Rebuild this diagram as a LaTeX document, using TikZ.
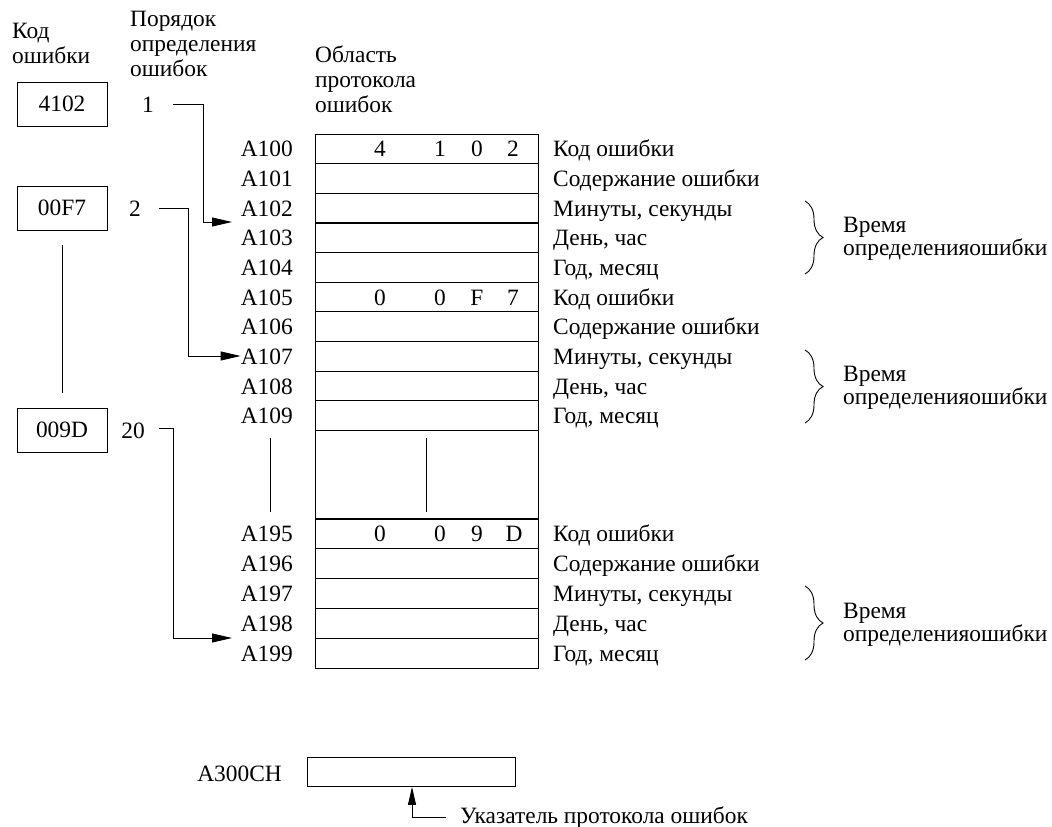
\documentclass[tikz,border=0pt]{standalone}
\usepackage{fontspec}
\setmainfont{Liberation Serif}
\usetikzlibrary{arrows.meta,decorations.pathreplacing}
\begin{document}
\begin{tikzpicture}[x=1pt,y=-1pt,
  txt/.style={font=\fontsize{23.4}{26}\selectfont, inner sep=0pt},
  lbl/.style={txt, anchor=base east},
  rl/.style={txt, anchor=base west},
  dg/.style={txt, anchor=base},
  codebox/.style={draw, line width=0.9pt, minimum width=90pt, minimum height=44pt, txt},
  ln/.style={line width=0.9pt},
  arr/.style={ln, -{Triangle[length=20pt,width=9pt]}},
  brc/.style={ln, decorate, decoration={brace, amplitude=18pt}}]
\useasboundingbox (0,0) rectangle (1052,827);

% headers
\node[rl] (h1a) at (12,38) {Код};
\node[rl] (h1b) at (12,63) {ошибки};
\node[rl] (h2a) at (130,26) {Порядок};
\node[rl] (h2b) at (130,51) {определения};
\node[rl] (h2c) at (130,76) {ошибок};
\node[rl] (h3a) at (315,62) {Область};
\node[rl] (h3b) at (315,87) {протокола};
\node[rl] (h3c) at (315,112) {ошибок};

% code boxes
\node[codebox] (b1) at (62,104) {4102};
\node[codebox] (b2) at (62,208) {00F7};
\node[codebox] (b3) at (62,430) {009D};
\draw[ln] ([yshift=-15pt]b2.south) -- ([yshift=15pt]b3.north);

% order numbers
\node[dg] (n1) at (148,112) {1};
\node[dg] (n2) at (135,216) {2};
\node[dg] (n3) at (133,438) {20};

% table
\draw[ln] (315,134) rectangle (538,668);
\foreach \k in {1,...,10} {
  \draw[line width=1.1pt] (315,{134+29.65*\k}) -- (538,{134+29.65*\k});
}
\foreach \k in {0,...,4} {
  \draw[line width=1.1pt] (315,{519+29.8*\k}) -- (538,{519+29.8*\k});
}
\draw[ln] (426,438) -- (426,512);
\draw[ln] (270,438) -- (270,512);

% addresses
\foreach \i/\lab in {0/A100,1/A101,2/A102,3/A103,4/A104,5/A105,6/A106,7/A107,8/A108,9/A109} {
  \node[lbl] (r\lab) at (293,{134+29.65*(\i+0.5)+8}) {\lab};
}
\foreach \i/\lab in {0/A195,1/A196,2/A197,3/A198,4/A199} {
  \node[lbl] (r\lab) at (293,{519+29.8*(\i+0.5)+8}) {\lab};
}

% right labels
\foreach \i/\t in {0/{Код ошибки},1/{Содержание ошибки},2/{Минуты, секунды},3/{День, час},4/{Год, месяц}} {
  \node[rl] (pa\i) at (553,{134+29.65*(\i+0.5)+8}) {\t};
  \node[rl] (pb\i) at (553,{134+29.65*(\i+5.5)+8}) {\t};
  \node[rl] (pc\i) at (553,{519+29.8*(\i+0.5)+8}) {\t};
}

% digits
\foreach \x/\d [count=\c] in {380/4,440/1,477/0,513/2} {
  \node[dg] (da\c) at (\x,{134+29.65*0.5+8}) {\d};
}
\foreach \x/\d [count=\c] in {380/0,440/0,477/F,513/7} {
  \node[dg] (db\c) at (\x,{134+29.65*5.5+8}) {\d};
}
\foreach \x/\d [count=\c] in {380/0,440/0,477/9,514/D} {
  \node[dg] (dc\c) at (\x,{519+29.8*0.5+8}) {\d};
}

% braces and time labels
\foreach \t/\b/\n in {201/274/1,350/423/2,586/660/3} {
  \draw[brc] (805,\t) -- (805,\b);
  \node[rl] (ta\n) at (843,{(\t+\b)/2-5}) {Время};
  \node[rl] (tb\n) at (843,{(\t+\b)/2+18}) {определенияошибки};
}

% arrows
\coordinate (t1) at (232,222);
\coordinate (t3) at (232,638);
\draw[arr] (173,104) -- (203,104) -- (203,222) -- (t1);
\draw[arr] (159,208) -- (188,208) -- (188,356) -- (rA107.west |- 0,356);
\draw[arr] (159,428) -- (173,428) -- (173,638) -- (t3);

% pointer
\node[lbl] (a300) at (282,781) {A300CH};
\node[draw, line width=0.9pt, minimum width=208pt, minimum height=29pt, inner sep=0pt, anchor=north west] (ptr) at (307,757) {};
\node[rl] (ptxt) at (460,823) {Указатель протокола ошибок};
\coordinate (pe) at (446,817);
\coordinate (pc) at (412,817);
\draw[ln, -{Triangle[length=18pt,width=8pt]}] (pe) -- (pc) -- (pc |- ptr.south);
\end{tikzpicture}
\end{document}
